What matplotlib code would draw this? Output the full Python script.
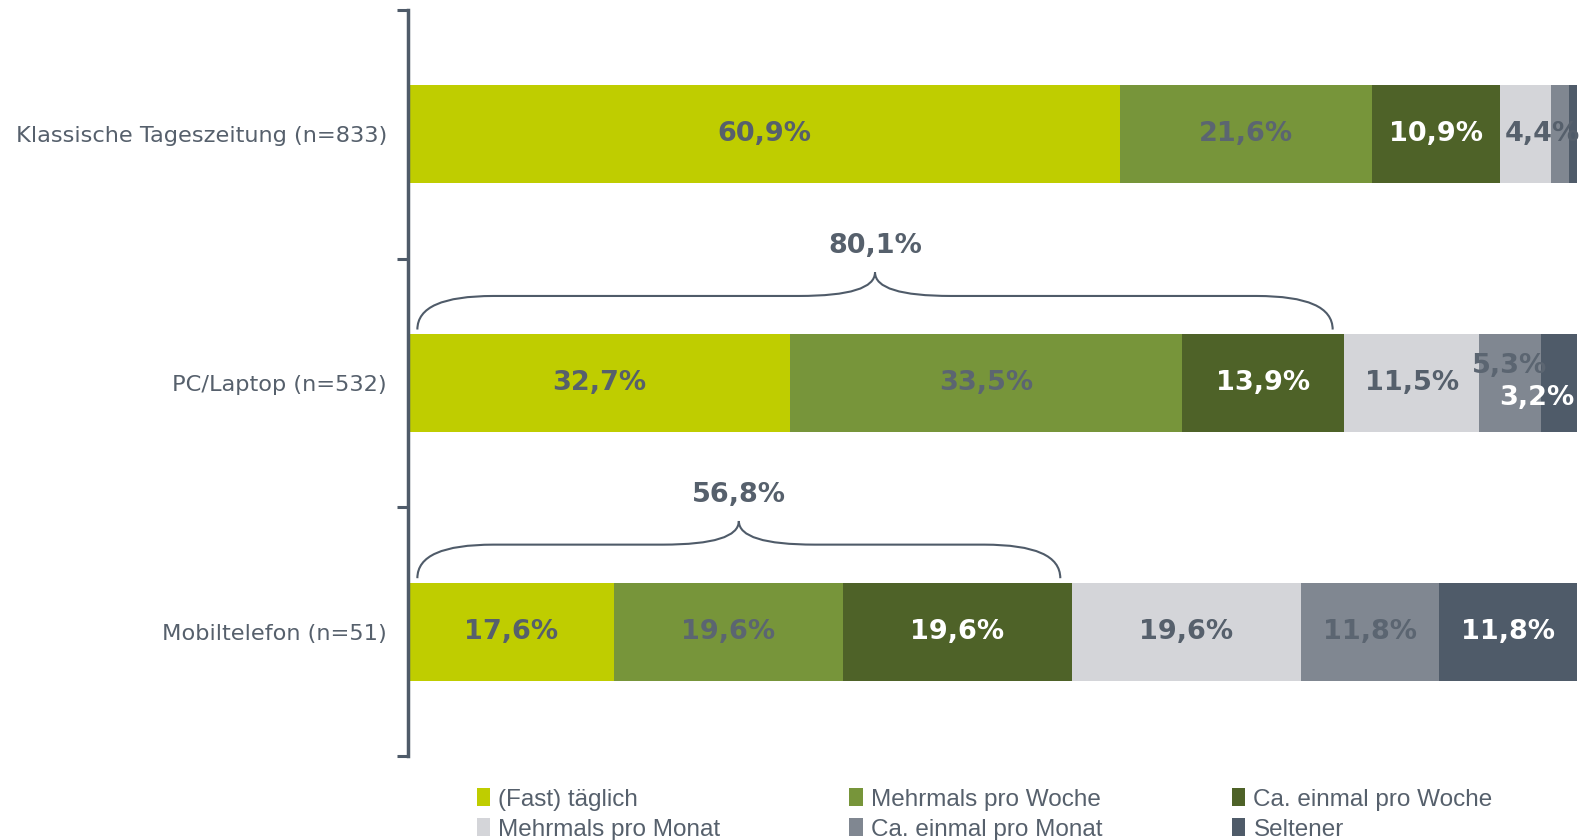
import numpy as np
import matplotlib.pyplot as plt
from matplotlib.path import Path
from matplotlib.patches import PathPatch

plt.rcParams['font.family'] = ['DejaVu Sans']

categories = ['Klassische Tageszeitung (n=833)', 'PC/Laptop (n=532)', 'Mobiltelefon (n=51)']
series = ['(Fast) täglich', 'Mehrmals pro Woche', 'Ca. einmal pro Woche',
          'Mehrmals pro Monat', 'Ca. einmal pro Monat', 'Seltener']
zeitung = [60.9, 21.6, 10.9, 4.4, 1.5, 0.7]
pc = [32.7, 33.5, 13.9, 11.5, 5.3, 3.2]
mobil = [17.6, 19.6, 19.6, 19.6, 11.8, 11.8]
brace_values = [None, 80.1, 56.8]

values = np.array([zeitung, pc, mobil])
colors = ['#bfcd00', '#77953a', '#4e6228', '#d4d5d9', '#808791', '#4f5b69']
txtcols = ['#56606c', '#5b6571', 'white', '#56606c', '#5b6571', 'white']
axcol = '#4f5b69'
labcol = '#56606c'

fig = plt.figure(figsize=(15.88, 8.40), dpi=100)
ax = fig.add_axes([408/1588, 84/840, 1169/1588, 746/840])

y = np.arange(len(categories))
left = np.zeros(len(categories))
for j, s in enumerate(series):
    ax.barh(y, values[:, j], left=left, height=0.395, color=colors[j], label=s, linewidth=0)
    for i in range(len(categories)):
        v = values[i, j]
        if v < 2:
            continue
        xc = left[i] + v / 2
        yc = y[i]
        ha = 'center'
        # crowded small segments
        if i == 0 and j == 3:
            xc = left[i] + 0.4
            ha = 'left'
        if i == 1 and j == 4:
            yc = y[i] - 0.07
        if i == 1 and j == 5:
            xc = 99.8
            ha = 'right'
            yc = y[i] + 0.06
        ax.text(xc, yc, f'{v:.1f}%'.replace('.', ','), ha=ha, va='center',
                color=txtcols[j], fontsize=19.5, fontweight='bold')
    left += values[:, j]

# braces above bars
def brace(ax, x0, x1, yb):
    xm = (x0 + x1) / 2
    d = 6.5
    y_end, y_line, y_tip = yb - 0.215, yb - 0.35, yb - 0.445
    verts = [(x0, y_end), (x0, y_line), (x0 + d, y_line),
             (xm - d, y_line),
             (xm, y_line), (xm, y_tip),
             (xm, y_line), (xm + d, y_line),
             (x1 - d, y_line),
             (x1, y_line), (x1, y_end)]
    codes = [Path.MOVETO, Path.CURVE3, Path.CURVE3, Path.LINETO,
             Path.CURVE3, Path.CURVE3, Path.CURVE3, Path.CURVE3,
             Path.LINETO, Path.CURVE3, Path.CURVE3]
    ax.add_patch(PathPatch(Path(verts, codes), fill=False, edgecolor=axcol, lw=1.5))
    return xm, y_tip

for i, bv in enumerate(brace_values):
    if bv is None:
        continue
    xm, yt = brace(ax, 0.8, bv - 1.0, y[i])
    ax.text(xm, yt - 0.105, f'{bv:.1f}%'.replace('.', ','), ha='center', va='center',
            color=labcol, fontsize=19.5, fontweight='bold')

ax.set_xlim(0, 100)
ax.set_ylim(2.5, -0.5)
ax.set_xticks([])
ax.set_yticks([-0.5, 0.5, 1.5, 2.5])
ax.set_yticklabels([])
ax.set_yticks(y, minor=True)
ax.set_yticklabels(categories, minor=True, fontsize=16.2, color=labcol)
ax.tick_params(axis='y', which='major', length=8, width=2.2, color=axcol)
ax.tick_params(axis='y', which='minor', length=0, pad=15)
for sp in ['top', 'right', 'bottom']:
    ax.spines[sp].set_visible(False)
ax.spines['left'].set_color(axcol)
ax.spines['left'].set_linewidth(2.5)

h, l = ax.get_legend_handles_labels()
order = [0, 3, 1, 4, 2, 5]
fig.legend([h[k] for k in order], [l[k] for k in order], ncol=3,
           loc='lower left', bbox_to_anchor=(462/1588, -0.018), frameon=False,
           prop={'family': 'Liberation Sans', 'size': 17.5}, labelcolor=labcol,
           handlelength=0.55, handleheight=0.75, handletextpad=0.35,
           columnspacing=5.3, labelspacing=0.31, borderpad=0.1)

fig.savefig('out.png', dpi=100)
